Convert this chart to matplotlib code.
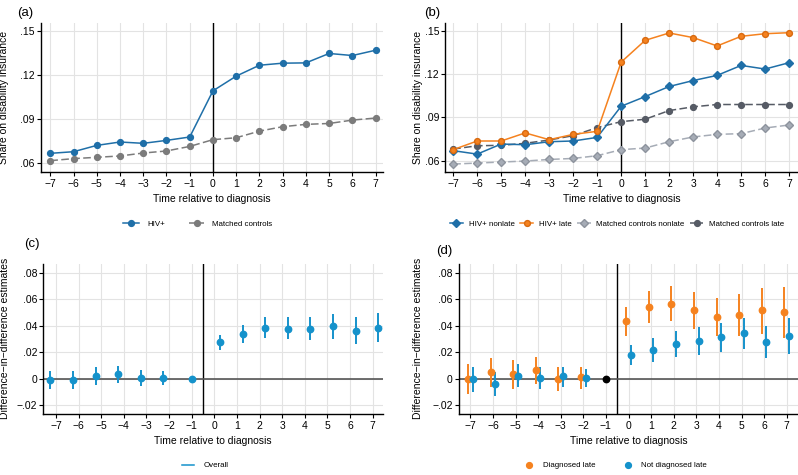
import numpy as np
import matplotlib.pyplot as plt
from matplotlib.lines import Line2D

plt.rcParams['font.family'] = ['Liberation Sans', 'DejaVu Sans']

# event time
years = list(range(-7, 8))

# (a) share on disability insurance
hiv_all = [0.0668, 0.0679, 0.0722, 0.0745, 0.0736, 0.0756, 0.0779, 0.1093,
           0.1193, 0.1267, 0.1281, 0.1283, 0.1347, 0.1333, 0.1369]
ctrl_all = [0.0618, 0.0632, 0.0641, 0.0650, 0.0670, 0.0684, 0.0715, 0.0761,
            0.0774, 0.0819, 0.0849, 0.0865, 0.0871, 0.0894, 0.0908]

# (b) by late diagnosis
hiv_nonlate = [0.0670, 0.0646, 0.0716, 0.0711, 0.0732, 0.0737, 0.0762, 0.0978,
               0.1045, 0.1115, 0.1156, 0.1192, 0.1261, 0.1236, 0.1280]
hiv_late = [0.0677, 0.0737, 0.0737, 0.0793, 0.0746, 0.0783, 0.0804, 0.1284,
            0.1435, 0.1486, 0.1454, 0.1396, 0.1463, 0.1481, 0.1488]
ctrl_nonlate = [0.0577, 0.0584, 0.0591, 0.0598, 0.0609, 0.0616, 0.0635, 0.0677,
                0.0688, 0.0732, 0.0765, 0.0783, 0.0788, 0.0827, 0.0848]
ctrl_late = [0.0681, 0.0704, 0.0707, 0.0721, 0.0744, 0.0774, 0.0830, 0.0871,
             0.0888, 0.0948, 0.0974, 0.0990, 0.0990, 0.0990, 0.0990]

# (c) DiD estimates overall (-1 is the reference year)
did_est = [-0.0008, -0.0005, 0.0023, 0.0035, 0.0010, 0.0010, 0.0, 0.0276,
           0.0338, 0.0386, 0.0378, 0.0378, 0.0396, 0.0363, 0.0386]
did_lo = [-0.0080, -0.0075, -0.0045, -0.0033, -0.0053, -0.0045, 0.0, 0.0216,
          0.0268, 0.0311, 0.0298, 0.0296, 0.0301, 0.0263, 0.0276]
did_hi = [0.0060, 0.0060, 0.0090, 0.0098, 0.0065, 0.0058, 0.0, 0.0333,
          0.0406, 0.0464, 0.0464, 0.0464, 0.0489, 0.0464, 0.0496]

# (d) DiD estimates by late diagnosis (without reference year -1)
years_d = [-7, -6, -5, -4, -3, -2, 0, 1, 2, 3, 4, 5, 6, 7]
late_est = [0.0, 0.0048, 0.0033, 0.0065, -0.0003, 0.0013, 0.0436, 0.0544,
            0.0566, 0.0519, 0.0469, 0.0484, 0.0519, 0.0506]
late_lo = [-0.0118, -0.0065, -0.0080, -0.0038, -0.0095, -0.0073, 0.0323, 0.0424,
           0.0434, 0.0376, 0.0323, 0.0323, 0.0338, 0.0311]
late_hi = [0.0113, 0.0158, 0.0143, 0.0168, 0.0093, 0.0093, 0.0539, 0.0659,
           0.0699, 0.0654, 0.0609, 0.0639, 0.0684, 0.0692]
nonlate_est = [-0.0003, -0.0038, 0.0023, 0.0005, 0.0018, 0.0008, 0.0183, 0.0216,
               0.0261, 0.0286, 0.0313, 0.0343, 0.0278, 0.0323]
nonlate_lo = [-0.0100, -0.0130, -0.0065, -0.0080, -0.0058, -0.0060, 0.0108, 0.0125,
              0.0163, 0.0178, 0.0206, 0.0223, 0.0155, 0.0186]
nonlate_hi = [0.0090, 0.0050, 0.0110, 0.0090, 0.0090, 0.0073, 0.0256, 0.0306,
              0.0361, 0.0389, 0.0421, 0.0461, 0.0401, 0.0459]

BLUE = "#1f6fa8"
ORANGE = "#f5821f"
CYAN = "#1592cb"
GRAY = "#7b7b7b"
LGRAY = "#a6acb6"
DGRAY = "#565b65"
GRID = "#e3e3e3"

FS = 7.5
LFS = 5.7

fig = plt.figure(figsize=(7.98, 4.75), dpi=100)
ax_a = fig.add_axes([0.0514, 0.6385, 0.4289, 0.3124])
ax_b = fig.add_axes([0.558, 0.6385, 0.442, 0.3124])
ax_c = fig.add_axes([0.0543, 0.129, 0.4257, 0.3152])
ax_d = fig.add_axes([0.5752, 0.129, 0.4248, 0.3152])


def style(ax, yticks, ylabels, ylabel, xlim, ylim, ylab_x):
    for s in ["top", "right"]:
        ax.spines[s].set_visible(False)
    for s in ["left", "bottom"]:
        ax.spines[s].set_linewidth(1.0)
    ax.set_xticks(years)
    ax.set_yticks(yticks)
    ax.set_yticklabels(ylabels)
    ax.set_xlim(*xlim)
    ax.set_ylim(*ylim)
    ax.grid(True, color=GRID, linewidth=0.8)
    ax.set_axisbelow(True)
    ax.tick_params(labelsize=FS, length=3, width=0.8, pad=1.5)
    ax.tick_params(axis="x", pad=2.5)
    ax.set_xlabel("Time relative to diagnosis", fontsize=FS, labelpad=3)
    ax.set_ylabel(ylabel, fontsize=FS)
    ax.yaxis.set_label_coords(ylab_x, 0.5)


# ---- (a)
ax_a.axvline(0, color="black", linewidth=1.0, zorder=1.5)
ax_a.plot(years, hiv_all, "-o", color=BLUE, lw=1.1, ms=4.2, label="HIV+", zorder=3)
ax_a.plot(years, ctrl_all, "--o", color=GRAY, lw=1.1, ms=4.2, dashes=(5, 2.2),
          label="Matched controls", zorder=3)
style(ax_a, [0.06, 0.09, 0.12, 0.15], [".06", ".09", ".12", ".15"],
      "Share on disability insurance", (-7.4, 7.33), (0.0543, 0.1552), -0.093)
ax_a.legend(loc="center", bbox_to_anchor=(0.248, 0.528), bbox_transform=fig.transFigure,
            ncol=2, frameon=False, fontsize=LFS, handlelength=2.0,
            handletextpad=1.0, columnspacing=3.0)

# ---- (b)
ax_b.axvline(0, color="black", linewidth=1.0, zorder=1.5)
ax_b.plot(years, ctrl_nonlate, "--D", color=LGRAY, mec="#8d939d", lw=1.1, ms=4.0,
          dashes=(5, 2.2), label="Matched controls nonlate", zorder=3)
ax_b.plot(years, ctrl_late, "--o", color=DGRAY, lw=1.1, ms=4.2, dashes=(5, 2.2),
          label="Matched controls late", zorder=3)
ax_b.plot(years, hiv_nonlate, "-D", color=BLUE, lw=1.1, ms=4.0,
          label="HIV+ nonlate", zorder=4)
ax_b.plot(years, hiv_late, "-o", color=ORANGE, mec="#d86a10", lw=1.1, ms=4.2,
          label="HIV+ late", zorder=4)
style(ax_b, [0.06, 0.09, 0.12, 0.15], [".06", ".09", ".12", ".15"],
      "Share on disability insurance", (-7.33, 7.37), (0.0524, 0.1553), -0.062)
h, l = ax_b.get_legend_handles_labels()
order = [2, 3, 0, 1]
ax_b.legend([h[i] for i in order], [l[i] for i in order], loc="center",
            bbox_to_anchor=(0.773, 0.528), bbox_transform=fig.transFigure,
            ncol=4, frameon=False, fontsize=LFS, handlelength=1.7,
            handletextpad=0.7, columnspacing=0.7)

# ---- (c)
pos_c = [t - 0.25 if t < -1 else (t + 0.25 if t >= 0 else t) for t in years]
ax_c.axvline(-0.5, color="black", linewidth=1.0, zorder=1.5)
ax_c.axhline(0, color="#555555", linewidth=1.2, zorder=1.5)
yerr_c = [np.array(did_est) - np.array(did_lo), np.array(did_hi) - np.array(did_est)]
ax_c.errorbar(pos_c, did_est, yerr=yerr_c, fmt="o", color=CYAN, ms=4.6,
              elinewidth=1.4, capsize=0, zorder=3)
style(ax_c, [-0.02, 0, 0.02, 0.04, 0.06, 0.08], ["\u2212.02", "0", ".02", ".04", ".06", ".08"],
      "Difference\u2212in\u2212difference estimates", (-7.56, 7.46), (-0.0263, 0.0866), -0.098)
ax_c.legend([Line2D([], [], color=CYAN, lw=1.1)], ["Overall"], loc="center",
            bbox_to_anchor=(0.257, 0.02), bbox_transform=fig.transFigure,
            frameon=False, fontsize=LFS, handlelength=1.6, handletextpad=1.2)

# ---- (d)
pos_late = [t - 0.1 for t in years_d]
pos_nonlate = [t + 0.1 for t in years_d]
ax_d.axvline(-0.5, color="black", linewidth=1.0, zorder=1.5)
ax_d.axhline(0, color="#555555", linewidth=1.2, zorder=1.5)
yerr_l = [np.array(late_est) - np.array(late_lo), np.array(late_hi) - np.array(late_est)]
yerr_n = [np.array(nonlate_est) - np.array(nonlate_lo), np.array(nonlate_hi) - np.array(nonlate_est)]
ax_d.errorbar(pos_late, late_est, yerr=yerr_l, fmt="o", color=ORANGE, ms=4.6,
              elinewidth=1.4, capsize=0, zorder=3, label="Diagnosed late")
ax_d.errorbar(pos_nonlate, nonlate_est, yerr=yerr_n, fmt="o", color=CYAN, ms=4.6,
              elinewidth=1.4, capsize=0, zorder=3, label="Not diagnosed late")
ax_d.plot([-1], [0], "o", color="black", ms=4.6, zorder=4)
style(ax_d, [-0.02, 0, 0.02, 0.04, 0.06, 0.08], ["\u2212.02", "0", ".02", ".04", ".06", ".08"],
      "Difference\u2212in\u2212difference estimates", (-7.5, 7.5), (-0.0263, 0.0866), -0.106)
ax_d.legend([Line2D([], [], marker="o", ls="", color=ORANGE, ms=4.2),
             Line2D([], [], marker="o", ls="", color=CYAN, ms=4.2)],
            ["Diagnosed late", "Not diagnosed late"], loc="center",
            bbox_to_anchor=(0.772, 0.02), bbox_transform=fig.transFigure, ncol=2,
            frameon=False, fontsize=LFS, handlelength=1.0, handletextpad=1.2,
            columnspacing=3.6)

# panel letters
fig.text(0.022, 0.985, "(a)", fontsize=9.5, va="top")
fig.text(0.532, 0.985, "(b)", fontsize=9.5, va="top")
fig.text(0.030, 0.50, "(c)", fontsize=9.5, va="top")
fig.text(0.547, 0.485, "(d)", fontsize=9.5, va="top")

fig.savefig("out.png", dpi=100)
